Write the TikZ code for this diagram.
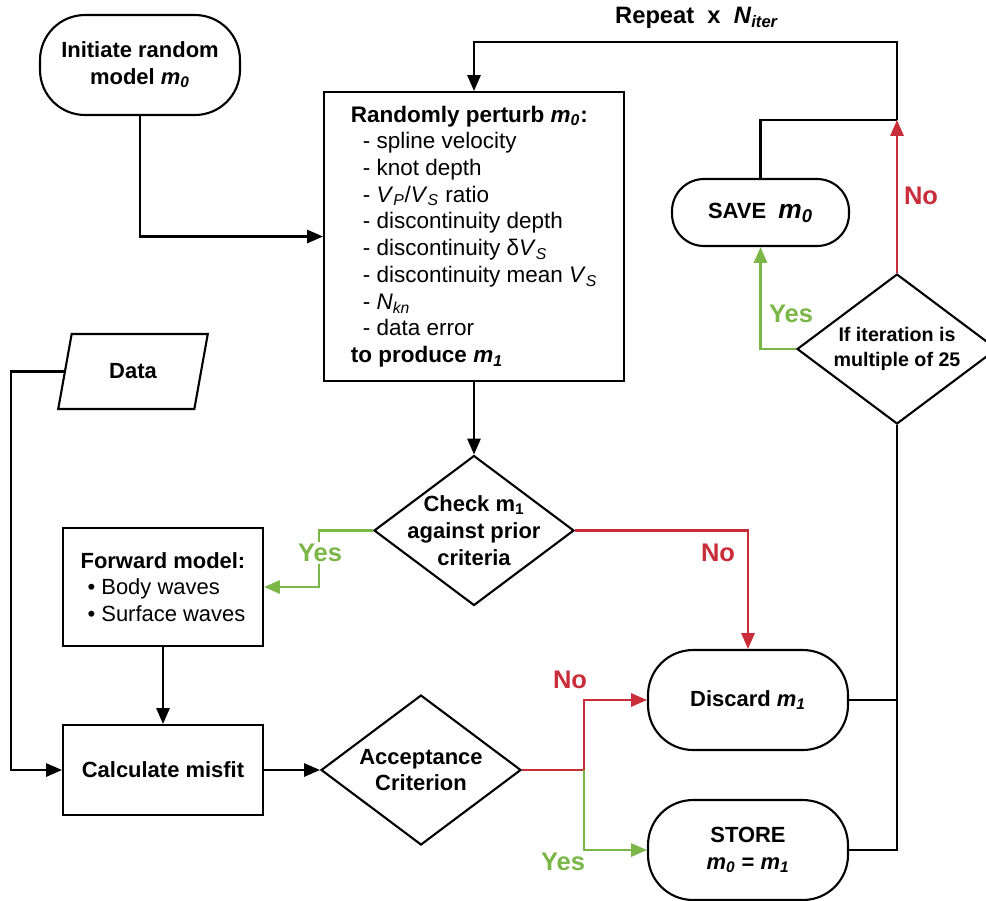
\documentclass[tikz,border=0pt]{standalone}
\usepackage{fontspec}
\setmainfont{Liberation Sans}
\usetikzlibrary{shapes.geometric,arrows.meta}
\definecolor{nored}{HTML}{C92D39}
\definecolor{yesgreen}{HTML}{7AB648}

\begin{document}
\begin{tikzpicture}[
  x=0.02cm, y=-0.02cm,
  line width=1.2pt, >={Triangle[length=9pt,width=7.5pt]},
  every node/.style={font=\fontsize{12.5}{15.2}\selectfont, align=center, inner sep=2pt},
  term/.style={rectangle, draw, rounded corners=0.9cm, minimum width=4cm, minimum height=2cm, font=\bfseries\fontsize{12.5}{15.2}\selectfont},
  box/.style={rectangle, draw, minimum width=4cm},
  dia/.style={diamond, draw, minimum width=4cm, minimum height=3cm, inner sep=0pt},
  io/.style={trapezium, draw, trapezium left angle=75, trapezium right angle=105, trapezium stretches=true, minimum width=3cm, minimum height=1.5cm, font=\bfseries\fontsize{12.5}{15.2}\selectfont},
  yeslbl/.style={text=yesgreen, font=\bfseries\fontsize{14.5}{15}\selectfont},
  nolbl/.style={text=nored, font=\bfseries\fontsize{14.5}{15}\selectfont}
]
\useasboundingbox (0,0) rectangle (986,900);

% Start und Daten
\node[term] (init) at (140,65) {Initiate random\\model \textit{m}\textsubscript{\textit{0}}};
\node[io] (data) at (133,371.5) {Data};

% Perturbation
\node[box, minimum width=6cm, minimum height=5.78cm, align=left, font=\fontsize{12.8}{15.2}\selectfont] (perturb) at (474,236.5) {\textbf{Randomly perturb \textit{m}\textsubscript{\textit{0}}:}\\
\hspace{0.24cm}- spline velocity\\
\hspace{0.24cm}- knot depth\\
\hspace{0.24cm}- \textit{V}\textsubscript{\textit{P}}/\textit{V}\textsubscript{\textit{S}} ratio\\
\hspace{0.24cm}- discontinuity depth\\
\hspace{0.24cm}- discontinuity δ\textit{V}\textsubscript{\textit{S}}\\
\hspace{0.24cm}- discontinuity mean \textit{V}\textsubscript{\textit{S}}\\
\hspace{0.24cm}- \textit{N}\textsubscript{\textit{kn}}\\
\hspace{0.24cm}- data error\\
\textbf{to produce \textit{m}\textsubscript{\textit{1}}}};

% Entscheidungen
\node[dia, label={[font=\bfseries\fontsize{12.5}{15.2}\selectfont]center:{Check m\textsubscript{1}\\against prior\\criteria}}] (check) at (474,530.5) {};
\node[dia, label={[font=\bfseries\fontsize{12.5}{15.2}\selectfont]center:{Acceptance\\Criterion}}] (accept) at (421,770) {};
\node[dia, label={[font=\bfseries\fontsize{11.2}{14}\selectfont]center:{If iteration is\\multiple of 25}}] (iter) at (897,349) {};

% Modell und Misfit
\node[box, minimum height=2.36cm, align=left] (fwd) at (163,587) {\textbf{Forward model:}\\
\hspace{0.14cm}\textbullet\ Body waves\\
\hspace{0.14cm}\textbullet\ Surface waves};
\node[box, minimum height=1.8cm, font=\bfseries\fontsize{12.5}{15.2}\selectfont] (misfit) at (163,770) {Calculate misfit};

% Ergebnisse
\node[term] (discard) at (748,700) {Discard \textit{m}\textsubscript{\textit{1}}};
\node[term] (store) at (748,850) {STORE\\\textit{m}\textsubscript{\textit{0}} = \textit{m}\textsubscript{\textit{1}}};
\node[term, rounded corners=0.64cm, minimum width=3.54cm, minimum height=1.34cm] (save) at (760.5,212.5) {SAVE~~{\fontsize{15}{15}\selectfont\textit{m}\textsubscript{\textit{0}}}};

% Hilfspunkte
\coordinate (jn) at (897,120);
\coordinate (loop) at (897,42);
\coordinate (split) at (584,770);

% Verbindungen
\draw[->] (init.south) |- (perturb.west);
\foreach \a/\b in {perturb.south/check.north, fwd.south/misfit.north, misfit.east/accept.west} {
  \draw[->] (\a) -- (\b);
}
\draw[->] (data.west) -- ++(-53,0) |- (misfit.west);
\draw[->] (jn) -- (loop) -| (perturb.north);
\draw (save.north) |- (jn);
\draw[->, nored] (iter.north) -- (jn);
\draw[->, yesgreen] (iter.west) -| (save.south);
\draw[->, yesgreen] (check.west) -- ++(-54,0) |- (fwd.east);
\draw[->, nored] (check.east) -| (discard.north);
\draw[nored] (accept.east) -- (split);
\draw[->, nored] (split) |- (discard.west);
\draw[->, yesgreen] (split) |- (store.west);
\draw (iter.south) |- (store.east);
\draw (discard.east) -- (iter.south |- discard.east);

% Beschriftungen
\node[font=\bfseries\fontsize{13.5}{15}\selectfont] (rep) at (697,18) {Repeat~~x~~\textit{N}\textsubscript{\textit{iter}}};
\node[nolbl] (no1) at (921,196) {No};
\node[yeslbl] (yes1) at (791,314) {Yes};
\node[yeslbl, fill=white, inner sep=1pt] (yes2) at (320,553) {Yes};
\node[nolbl] (no2) at (718,553) {No};
\node[nolbl] (no3) at (570,680) {No};
\node[yeslbl] (yes3) at (563,862) {Yes};
\end{tikzpicture}
\end{document}
